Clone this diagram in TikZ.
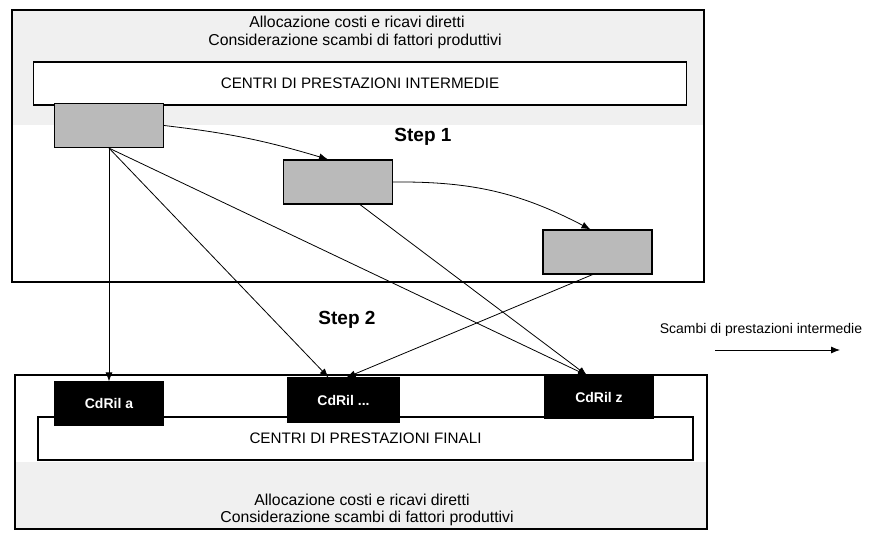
\documentclass[tikz,border=0pt]{standalone}
\usepackage{fontspec}
\setmainfont{Liberation Sans}
\usepackage{tikz}
\usetikzlibrary{calc,positioning,arrows.meta}

\begin{document}
\begin{tikzpicture}[x=1pt,y=-1pt]
\tikzset{
    grey box/.style={rectangle, draw, line width=1.2pt, fill=black!27,
                     minimum width=109pt, minimum height=44pt, inner sep=0pt},
    black box/.style={rectangle, draw, line width=1.2pt, fill=black, text=white,
                      font=\fontsize{14}{16}\selectfont\bfseries,
                      minimum width=109pt, minimum height=43pt, inner sep=0pt},
    centre box/.style={rectangle, draw, line width=1.2pt, fill=white,
                       font=\fontsize{15.2}{18}\selectfont,
                       minimum width=653pt, minimum height=43pt, inner sep=0pt},
    plain text/.style={font=\fontsize{15.8}{18}\selectfont, inner sep=0pt},
    step label/.style={font=\fontsize{19}{22}\selectfont\bfseries, inner sep=0pt},
    flow/.style={-{Latex[length=9pt,width=7pt]}, line width=0.8pt}
}
\useasboundingbox (0,0) rectangle (894,533);

% upper area
\fill[black!6] (12,10) rectangle (704,125);
\draw[line width=1.3pt] (12,10) rectangle (704,282);
% lower area
\fill[black!6] (15,462) rectangle (707,529);
\draw[line width=1.3pt] (15,375) rectangle (707,529);

\node[plain text] (top1) at (357,22) {Allocazione costi e ricavi diretti};
\node[plain text] (top2) at (355,41) {Considerazione scambi di fattori produttivi};
\node[centre box] (cpi) at (360,83.5) {CENTRI DI PRESTAZIONI INTERMEDIE};

\node[grey box] (g1) at (109,125.5) {};
\node[grey box] (g2) at (338,182) {};
\node[grey box] (g3) at (597.5,252) {};

\node[step label] (step1) at (423,137) {Step 1};
\node[step label] (step2) at (347,320) {Step 2};

\node[centre box, minimum width=655pt] (cpf) at (365.5,438.5) {CENTRI DI PRESTAZIONI FINALI};
\node[black box] (ra) at (109,403.5) {CdRil a};
\node[black box, minimum width=111pt, minimum height=44pt] (rdots) at (343.5,400) {CdRil ...};
\node[black box, minimum height=42pt] (rz) at (599,397) {CdRil z};

\node[plain text] (bot1) at (362,500) {Allocazione costi e ricavi diretti};
\node[plain text] (bot2) at (367,518) {Considerazione scambi di fattori produttivi};

% step 1
\draw[flow] (g1.east) to[bend left=5] ([xshift=-10pt]g2.north);
\draw[flow] (g2.east) to[bend left=14] ([xshift=-7pt]g3.north);
% step 2
\draw[flow] (g1.south) -- (ra.north);
\draw[flow] (g1.south) -- ([xshift=-15pt]rdots.north);
\draw[flow] (g1.south) -- ([xshift=-12pt]rz.north);
\draw[flow] ([xshift=22pt]g2.south) -- ([xshift=-12pt]rz.north);
\draw[flow] ([xshift=-5pt]g3.south) -- ([xshift=3pt]rdots.north);

% legend
\node[plain text, font=\fontsize{14}{16}\selectfont] (legend) at (761,330) {Scambi di prestazioni intermedie};
\coordinate (leg1) at (715,350);
\coordinate (leg2) at (840,350);
\draw[flow] (leg1) -- (leg2);
\end{tikzpicture}
\end{document}
